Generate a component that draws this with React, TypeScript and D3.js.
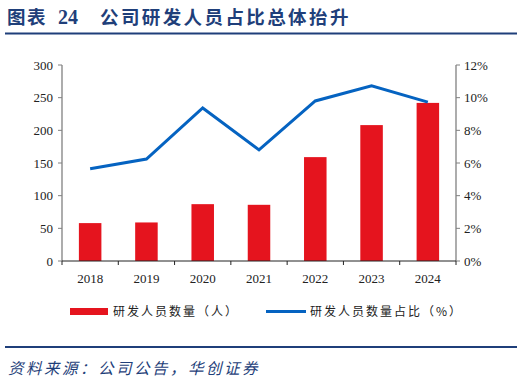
import React from "react";
import * as d3 from "d3";

const years = ["2018", "2019", "2020", "2021", "2022", "2023", "2024"];
const staff = [58, 59, 87, 86, 159, 208, 242];
const ratio = [5.65, 6.24, 9.37, 6.8, 9.8, 10.73, 9.73];
const leftTicks = [0, 50, 100, 150, 200, 250, 300];
const rightTicks = [0, 2, 4, 6, 8, 10, 12];

const W = 524, H = 382;
const L = 62, R = 456, T = 65, B = 261;
const RED = "#E5141E";
const BLUE = "#0563C1";
const NAVY = "#1F3F7A";
const SERIF = "'Liberation Serif', 'Times New Roman', serif";
const CJK = "'Noto Sans CJK SC', sans-serif";

export default function App() {
  const x = d3.scaleBand<string>().domain(years).range([L, R]).paddingInner(0.6).paddingOuter(0.3);
  const xc = d3.scaleBand<string>().domain(years).range([L, R]);
  const yL = d3.scaleLinear().domain([0, 300]).range([B, T]);
  const yR = d3.scaleLinear().domain([0, 12]).range([B, T]);
  const line = d3
    .line<number>()
    .x((_, i) => (xc(years[i]) as number) + xc.bandwidth() / 2)
    .y((d) => yR(d));
  const boundaries = years.map((y) => xc(y) as number).concat([R]);

  return (
    <svg width={W} height={H} style={{ position: "absolute", left: 0, top: 0 }}>
      <rect width={W} height={H} fill="#fff" />
      <text x={7} y={24} fontFamily={CJK} fontWeight="bold" fontSize={18.5} fill={NAVY} letterSpacing={1.5}>
        图表
      </text>
      <text x={58} y={24} fontFamily={SERIF} fontWeight="bold" fontSize={20} fill={NAVY}>
        24
      </text>
      <text x={100} y={24} fontFamily={CJK} fontWeight="bold" fontSize={18.5} fill={NAVY} letterSpacing={2.4}>
        公司研发人员占比总体抬升
      </text>
      <line x1={5} x2={517} y1={33.5} y2={33.5} stroke={NAVY} strokeWidth={2} />

      {staff.map((v, i) => (
        <rect
          key={years[i]}
          x={x(years[i])}
          y={yL(v)}
          width={x.bandwidth()}
          height={B - yL(v)}
          fill={RED}
        />
      ))}
      <path d={line(ratio) || ""} fill="none" stroke={BLUE} strokeWidth={3} strokeLinejoin="miter" />

      {/* left axis */}
      <line x1={L} x2={L} y1={T} y2={B} stroke="#808080" strokeWidth={1.3} />
      {leftTicks.map((t) => (
        <g key={t}>
          <line x1={L - 4} x2={L} y1={yL(t)} y2={yL(t)} stroke="#808080" />
          <text x={L - 9} y={yL(t)} dy="0.35em" textAnchor="end" fontFamily={SERIF} fontSize={13} fill="#222">
            {t}
          </text>
        </g>
      ))}
      {/* right axis */}
      <line x1={R} x2={R} y1={T} y2={B} stroke="#808080" strokeWidth={1.3} />
      {rightTicks.map((t) => (
        <g key={t}>
          <line x1={R} x2={R + 4} y1={yR(t)} y2={yR(t)} stroke="#808080" />
          <text x={R + 8} y={yR(t)} dy="0.35em" textAnchor="start" fontFamily={SERIF} fontSize={13} fill="#222">
            {t}%
          </text>
        </g>
      ))}
      {/* x axis */}
      <line x1={L} x2={R} y1={B} y2={B} stroke="#222" strokeWidth={1} />
      {boundaries.map((b, i) => (
        <line key={i} x1={b} x2={b} y1={B} y2={B + 4} stroke="#222" />
      ))}
      {years.map((y) => (
        <text
          key={y}
          x={(xc(y) as number) + xc.bandwidth() / 2}
          y={283}
          textAnchor="middle"
          fontFamily={SERIF}
          fontSize={13}
          fill="#222"
        >
          {y}
        </text>
      ))}

      {/* legend */}
      <rect x={70} y={308} width={38} height={7} fill={RED} />
      <text x={113} y={316} fontFamily={CJK} fontSize={12} fill="#222" letterSpacing={2}>
        研发人员数量（人）
      </text>
      <line x1={266} x2={306} y1={311.5} y2={311.5} stroke={BLUE} strokeWidth={3} />
      <text x={310} y={316} fontFamily={CJK} fontSize={12} fill="#222" letterSpacing={2}>
        研发人员数量占比（%）
      </text>

      <line x1={5} x2={517} y1={347} y2={347} stroke={NAVY} strokeWidth={2} />
      <text x={8} y={374} fontFamily={CJK} fontStyle="italic" fontSize={15.5} fill={NAVY} letterSpacing={2.5}>
        资料来源：公司公告，华创证券
      </text>
    </svg>
  );
}
